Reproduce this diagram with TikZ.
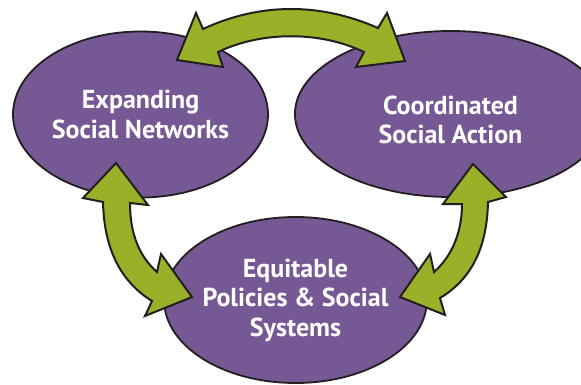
\documentclass[tikz,border=0pt]{standalone}
\usepackage{fontspec}
\setmainfont{PT Sans}
\usetikzlibrary{shapes.geometric}
\definecolor{ovalpurple}{RGB}{118,88,148}
\definecolor{arrowgreen}{RGB}{154,176,41}
\definecolor{outline}{RGB}{35,31,32}
\tikzset{
  oval/.style={ellipse, draw=outline, line width=1.8pt, fill=ovalpurple,
    minimum width=255pt, minimum height=166pt, inner sep=0pt,
    text=white, align=center, font=\fontsize{26}{29.5}\selectfont\bfseries},
  bigarrow/.style={draw=outline, fill=arrowgreen, line width=2pt, line join=miter}
}
\begin{document}
\begin{tikzpicture}[x=1pt,y=-1pt]
\useasboundingbox (0,0) rectangle (581,385);
\node[oval] (net) at (140.5,114.5) {Expanding\\Social Networks};
\node[oval] (act) at (450.5,114) {\raisebox{-6pt}[\height][\depth]{\parbox{220pt}{\centering Coordinated\\Social Action}}};
\node[oval] (pol) at (295.5,300) {Equitable\\Policies \& Social\\Systems};
% top arrow: net <-> act
\path[bigarrow] (177,60) -- (196,13) -- (203,29) .. controls (260,2.5) and (320,2.5) .. (378,28)
  -- (387,13) -- (405,61) -- (356,67) -- (364,52) .. controls (320,31) and (262,31) .. (218,52)
  -- (223,67) -- cycle;
% left arrow: net <-> pol
\path[bigarrow] (116,163) -- (148,205) -- (130,203) .. controls (130,235) and (140,257) .. (157,272)
  -- (161,254) -- (192,297) -- (145,316) -- (152,301) .. controls (118,280) and (104,245) .. (103,202)
  -- (83,198) -- cycle;
% right arrow: act <-> pol
\path[bigarrow] (473,164) -- (506,197) -- (488,202) .. controls (487,250) and (470,280) .. (440,298)
  -- (445,315) -- (400,297) -- (430,254) -- (434,272) .. controls (450,258) and (462,235) .. (462,204)
  -- (443,204) -- cycle;
\end{tikzpicture}
\end{document}
